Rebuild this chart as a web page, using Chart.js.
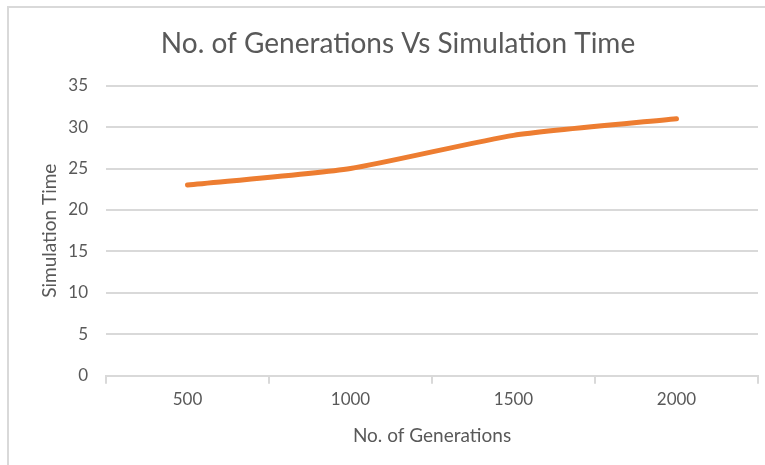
<!DOCTYPE html>
<html>
<head>
<meta charset="utf-8">
<script src="https://cdn.jsdelivr.net/npm/chart.js@4"></script>
<style>
  html, body { margin: 0; padding: 0; background: #fff; overflow: hidden; }
  #wrap { position: relative; width: 765px; height: 465px; }
  #frame { position: absolute; left: 7px; top: 6px; width: 780px; height: 480px; border: 2px solid #d9d9d9; box-sizing: border-box; }
  canvas { position: absolute; left: 0; top: 0; }
</style>
</head>
<body>
<div id="wrap">
  <div id="frame"></div>
  <canvas id="chart" width="765" height="465"></canvas>
</div>
<script>
  // data
  const generations = ['500', '1000', '1500', '2000'];
  const simTime = [23, 25, 29, 31];
  const yTicks = [0, 5, 10, 15, 20, 25, 30, 35];

  const grey = '#595959';
  const fontFamily = 'Lato, "Open Sans", sans-serif';

  const ctx = document.getElementById('chart').getContext('2d');
  new Chart(ctx, {
    type: 'line',
    data: {
      labels: generations,
      datasets: [{
        label: 'Simulation Time',
        data: simTime,
        borderColor: '#ED7D31',
        borderWidth: 5,
        borderCapStyle: 'round',
        tension: 0.2,
        pointRadius: 0,
        fill: false
      }]
    },
    options: {
      responsive: false,
      animation: false,
      layout: { padding: { left: 38, right: 7, top: 0, bottom: 18 } },
      plugins: {
        legend: { display: false },
        tooltip: { enabled: false },
        title: {
          display: true,
          text: 'No. of Generations Vs Simulation Time',
          color: grey,
          font: { family: fontFamily, size: 28, weight: 'normal' },
          padding: { top: 27, bottom: 25 }
        }
      },
      scales: {
        x: {
          offset: true,
          grid: {
            offset: true,
            drawOnChartArea: false,
            drawTicks: true,
            tickLength: 8,
            color: '#d9d9d9',
            lineWidth: 2
          },
          border: { color: '#d9d9d9', width: 2 },
          ticks: {
            color: grey,
            font: { family: fontFamily, size: 17 },
            padding: 6
          },
          title: {
            display: true,
            text: 'No. of Generations',
            color: grey,
            font: { family: fontFamily, size: 19 },
            padding: { top: 8, bottom: 0 }
          }
        },
        y: {
          min: 0,
          max: 35,
          afterBuildTicks: (axis) => { axis.ticks = yTicks.map(v => ({ value: v })); },
          afterFit: (axis) => { axis.width = 68; },
          grid: { color: '#d9d9d9', lineWidth: 2, drawTicks: false },
          border: { display: false },
          ticks: {
            color: grey,
            font: { family: fontFamily, size: 17 },
            padding: 18
          },
          title: {
            display: true,
            text: 'Simulation Time',
            color: grey,
            font: { family: fontFamily, size: 19 },
            padding: { top: 0, bottom: 4 }
          }
        }
      }
    }
  });
</script>
</body>
</html>
